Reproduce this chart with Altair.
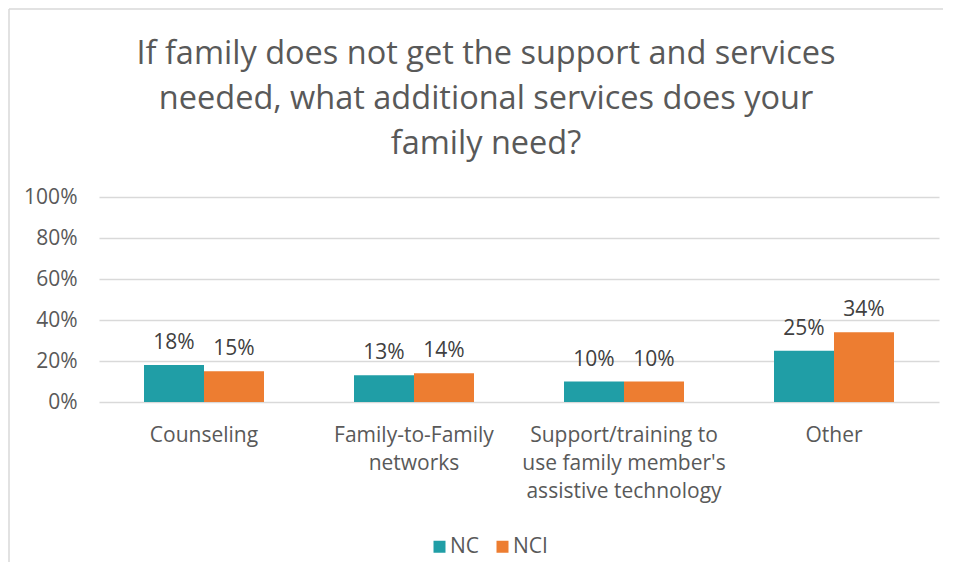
import altair as alt
import pandas as pd

categories = [
    "Counseling",
    "Family-to-Family|networks",
    "Support/training to|use family member's|assistive technology",
    "Other",
]
series = ["NC", "NCI"]
nc_values = [0.18, 0.13, 0.10, 0.25]
nci_values = [0.15, 0.14, 0.10, 0.34]
y_ticks = [0, 0.2, 0.4, 0.6, 0.8, 1.0]
title_lines = [
    "If family does not get the support and services",
    "needed, what additional services does your",
    "family need?",
]
colors = ["#209EA6", "#ED7D31"]

rows = []
for c, a, b in zip(categories, nc_values, nci_values):
    rows.append({"category": c, "series": "NC", "value": a})
    rows.append({"category": c, "series": "NCI", "value": b})
df = pd.DataFrame(rows)

FONT = "Open Sans"
GRAY = "#595959"
FS = 21

x_enc = alt.X(
    "category:N",
    sort=categories,
    scale=alt.Scale(paddingInner=0.4286, paddingOuter=0.2143),
    axis=alt.Axis(
        title=None,
        labelAngle=0,
        labelExpr="split(datum.label, '|')",
        labelFont=FONT,
        labelFontSize=FS,
        labelColor=GRAY,
        labelPadding=22,
        labelBaseline="top",
        labelLineHeight=28,
        labelLimit=400,
        domain=False,
        ticks=False,
    ),
)
xoff = alt.XOffset("series:N", sort=series, scale=alt.Scale(paddingInner=0, paddingOuter=0))
y_enc = alt.Y(
    "value:Q",
    scale=alt.Scale(domain=[0, 1], nice=False),
    axis=alt.Axis(
        title=None,
        values=y_ticks,
        format=".0%",
        labelFont=FONT,
        labelFontSize=FS,
        labelColor=GRAY,
        labelPadding=22,
        domain=False,
        ticks=False,
        grid=True,
        gridColor="#D9D9D9",
        gridWidth=1.5,
    ),
)

bars = alt.Chart(df).mark_bar().encode(
    x=x_enc,
    xOffset=xoff,
    y=y_enc,
    color=alt.Color(
        "series:N",
        sort=series,
        scale=alt.Scale(domain=series, range=colors),
        legend=alt.Legend(
            title=None,
            orient="none",
            legendX=330,
            legendY=339,
            direction="horizontal",
            symbolType="square",
            symbolSize=144,
            symbolStrokeWidth=0,
            labelFont=FONT,
            labelFontSize=FS,
            labelColor=GRAY,
            labelOffset=0,
            columnPadding=12,
        ),
    ),
)

labels = alt.Chart(df).mark_text(
    baseline="middle", dy=-22, font=FONT, fontSize=FS, color="#404040"
).encode(
    x=alt.X("category:N", sort=categories),
    xOffset=alt.XOffset("series:N", sort=series),
    y="value:Q",
    text=alt.Text("value:Q", format=".0%"),
)

frame_data = alt.Data(values=[{"a": 1}])
frame_left = alt.Chart(frame_data).mark_rule(color="#D9D9D9", strokeWidth=1.5).encode(
    x=alt.value(-90), y=alt.value(-188), y2=alt.value(365)
)
frame_top = alt.Chart(frame_data).mark_rule(color="#D9D9D9", strokeWidth=1.5).encode(
    y=alt.value(-188), x=alt.value(-90), x2=alt.value(844)
)

chart = alt.layer(frame_left, frame_top, bars, labels).properties(
    width=840,
    height=205,
    autosize=alt.AutoSizeParams(type="none"),
    padding={"left": 91, "top": 189, "right": 8, "bottom": 160},
    background="white",
    title=alt.TitleParams(
        text=title_lines,
        font=FONT,
        fontSize=32.5,
        fontWeight="normal",
        color=GRAY,
        lineHeight=45,
        anchor="middle",
        frame="group",
        dx=-33,
        offset=-152,
    ),
).configure_view(stroke=None, strokeWidth=0)

chart.save("out.html", embed_options={"renderer": "svg", "actions": False})
